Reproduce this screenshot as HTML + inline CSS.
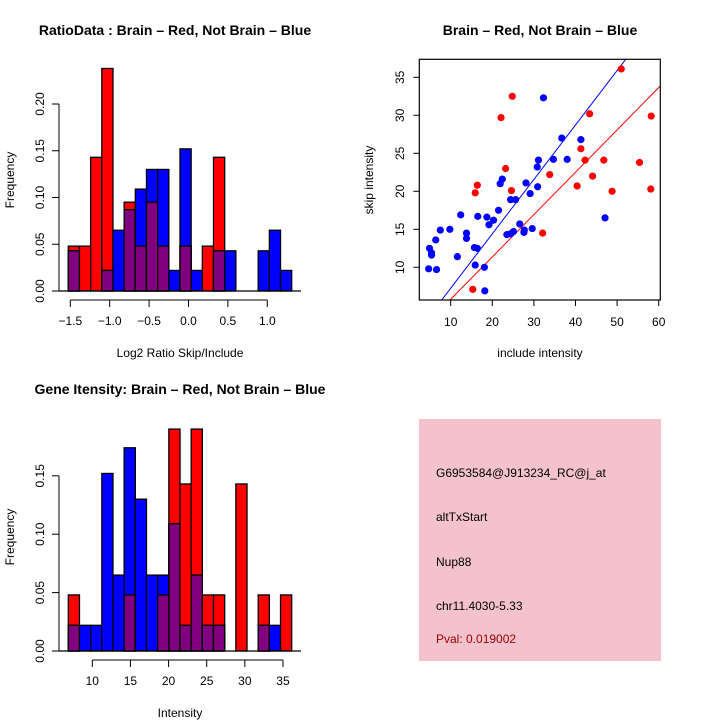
<!DOCTYPE html>
<html><head><meta charset="utf-8"><style>
body{margin:0;background:#fff}
svg{display:block;font-family:"Liberation Sans",sans-serif}
</style></head><body>
<svg id="c" width="720" height="720" viewBox="0 0 720 720">
<rect width="720" height="720" fill="#fff"/>
<g id="h1"></g>
<g id="sc"></g>
<g id="h2"></g>
<g>
<rect x="419" y="419" width="242" height="242" fill="#f4c2cc"/>
<text x="436" y="477" font-size="12">G6953584@J913234_RC@j_at</text>
<text x="436" y="521" font-size="12">altTxStart</text>
<text x="436" y="566" font-size="12">Nup88</text>
<text x="436" y="610" font-size="12">chr11.4030-5.33</text>
<text x="436" y="643" font-size="12" fill="#a00000">Pval: 0.019002</text>
</g>
</svg>
<script>
// Ratio histogram data
const ratioRed = [0.048,0.048,0.143,0.238,0,0.095,0.048,0.095,0.048,0,0.048,0,0.048,0.143,0,0,0,0,0,0];
const ratioBlue = [0.043,0,0,0.022,0.065,0.087,0.109,0.130,0.130,0.022,0.152,0.022,0,0.043,0.043,0,0,0.043,0.065,0.022];
const ratioXTicks = [-1.5,-1.0,-0.5,0.0,0.5,1.0];
const ratioYTicks = [0,0.05,0.10,0.15,0.20];
// Intensity histogram data
const intRed = [0.048,0,0,0,0,0.048,0,0,0.048,0.19,0.143,0.19,0.048,0.048,0,0.143,0,0.048,0,0.048];
const intBlue = [0.022,0.022,0.022,0.152,0.065,0.174,0.130,0.065,0.065,0.109,0.022,0.065,0.022,0.022,0,0,0,0.022,0.022,0];
const intXTicks = [10,15,20,25,30,35];
const intYTicks = [0,0.05,0.10,0.15];
// Scatter data
const redX = [51.0,24.8,22.1,43.4,58.2,41.3,42.3,46.8,55.4,23.2,33.8,44.1,40.4,16.4,15.9,24.6,48.8,58.1,32.1,15.3];
const redY = [36.1,32.5,29.7,30.2,29.9,25.6,24.1,24.1,23.8,23.0,22.2,22.0,20.7,20.8,19.8,20.1,20.0,20.3,14.5,7.1];
const blueX = [32.3,36.7,41.3,31.1,34.7,38.0,30.8,30.9,22.4,21.9,28.1,24.4,25.6,29.1,21.5,12.4,16.5,18.7,20.3,19.2,26.6,47.1,7.5,9.8,13.8,13.8,27.7,29.6,27.6,23.5,25.1,24.4,6.4,4.9,5.4,5.4,11.6,15.7,16.4,15.9,18.1,4.7,6.6,18.2];
const blueY = [32.3,27.0,26.8,24.1,24.2,24.2,23.2,20.6,21.6,21.0,21.1,18.9,18.9,19.7,17.5,16.9,16.7,16.6,16.2,15.6,15.7,16.5,14.9,15.0,14.5,13.8,14.9,15.1,14.6,14.3,14.7,14.4,13.6,12.5,11.9,11.6,11.4,12.6,12.5,10.3,10.0,9.8,9.7,6.9];
const fitRed = [0.224,0.557];
const fitBlue = [0.087,0.716];
const scXTicks = [10,20,30,40,50,60];
const scYTicks = [10,15,20,25,30,35];

const NS="http://www.w3.org/2000/svg";
function mk(p,tag,at){const e=document.createElementNS(NS,tag);for(const k in at)e.setAttribute(k,at[k]);p.appendChild(e);return e;}
function txt(p,x,y,s,at){const e=mk(p,'text',Object.assign({x:x,y:y,'font-size':12,'text-anchor':'middle'},at||{}));e.textContent=s;return e;}

function hist(g,red,blue,x0,bw,xscale,yscale,base,xticks,yticks,xfmt,yfmt,xaxY,title,xlabel,titleX){
  for(let i=0;i<red.length;i++){
    const x=x0+bw*i;
    const r=red[i],b=blue[i],m=Math.min(r,b);
    if(r>0){const e=mk(g,'rect',{x:x,y:yscale(r),width:bw,height:base-yscale(r),fill:'#ff0000',stroke:'#000','stroke-width':1.3});
      
      }
    if(b>0){const e=mk(g,'rect',{x:x,y:yscale(b),width:bw,height:base-yscale(b),fill:'#0000ff',stroke:'#000','stroke-width':1.3});
      
      }
    if(m>0){const e=mk(g,'rect',{x:x,y:yscale(m),width:bw,height:base-yscale(m),fill:'#800080',stroke:'#000','stroke-width':1.3});
      
      }
  }
  mk(g,'line',{x1:59,x2:301,y1:base,y2:base,stroke:'#000','stroke-width':1.2});
  mk(g,'line',{x1:59,x2:59,y1:base,y2:yscale(yticks[yticks.length-1]),stroke:'#000','stroke-width':1});
  yticks.forEach(v=>{const y=yscale(v);mk(g,'line',{x1:52,x2:59,y1:y,y2:y,stroke:'#000'});
    const t=txt(g,44,y,yfmt(v),{transform:`rotate(-90 44 ${y})`});
    
    });
  const xs=xticks.map(xscale);
  mk(g,'line',{x1:xs[0],x2:xs[xs.length-1],y1:xaxY,y2:xaxY,stroke:'#000'});
  xticks.forEach(v=>{const x=xscale(v);mk(g,'line',{x1:x,x2:x,y1:xaxY,y2:xaxY+7,stroke:'#000'});
    const t=txt(g,x,xaxY+25,xfmt(v));
    
    });
  const tt=txt(g,titleX,base-0,title,{'font-weight':'bold','font-size':14});return tt;
}

// Top-left histogram
(function(){
  const g=document.getElementById('h1');
  const ys=v=>291-v*935;
  const xs=v=>70.3+(v+1.5)*78.8;
  hist(g,ratioRed,ratioBlue,68.3,11.17,xs,ys,291,ratioXTicks,ratioYTicks,v=>v.toFixed(1).replace('-','\u2212'),v=>v.toFixed(2),300,'','',0).remove();
  const t=txt(g,175,35,'RatioData : Brain \u2013 Red, Not Brain \u2013 Blue',{'font-weight':'bold','font-size':14});
  
  
  const xl=txt(g,180,357,'Log2 Ratio Skip/Include');
  
  
  const yl=txt(g,14,180,'Frequency',{transform:'rotate(-90 14 180)'});
  
  
})();

// Bottom-left histogram
(function(){
  const g=document.getElementById('h2');
  const ys=v=>651-v*1168;
  const xs=v=>92.3+(v-10)*7.627;
  hist(g,intRed,intBlue,68.3,11.17,xs,ys,651,intXTicks,intYTicks,v=>String(v),v=>v.toFixed(2),660,'','',0).remove();
  const t=txt(g,180,394,'Gene Itensity: Brain \u2013 Red, Not Brain \u2013 Blue',{'font-weight':'bold','font-size':14});
  
  
  const xl=txt(g,180,717,'Intensity');
  
  
  const yl=txt(g,14,537,'Frequency',{transform:'rotate(-90 14 537)'});
  
  
})();

// Scatter
(function(){
  const g=document.getElementById('sc');
  const L=419.3,R=660.3,T=59.3,B=300;
  const xs=v=>450.7+(v-10)*4.16;
  const ys=v=>267.3-(v-10)*7.6;
  mk(g,'clipPath',{id:'clp'}).appendChild((()=>{const r=document.createElementNS(NS,'rect');r.setAttribute('x',L);r.setAttribute('y',T);r.setAttribute('width',R-L);r.setAttribute('height',B-T);return r;})());
  const lg=mk(g,'g',{'clip-path':'url(#clp)'});
  [[fitBlue,'#0000ff','fit-line-not-brain'],[fitRed,'#ff0000','fit-line-brain']].forEach(([f,c,n])=>{
    const x1=0,x2=70;
    const e=mk(lg,'line',{x1:xs(x1),y1:ys(f[0]+f[1]*x1),x2:xs(x2),y2:ys(f[0]+f[1]*x2),stroke:c,'stroke-width':1});
    
    
  });
  redX.forEach((x,i)=>{const e=mk(g,'circle',{cx:xs(x),cy:ys(redY[i]),r:3.6,fill:'#ff0000'});
    
    });
  blueX.forEach((x,i)=>{const e=mk(g,'circle',{cx:xs(x),cy:ys(blueY[i]),r:3.6,fill:'#0000ff'});
    
    });
  mk(g,'rect',{x:L,y:T,width:R-L,height:B-T,fill:'none',stroke:'#000','stroke-width':1.2});
  scXTicks.forEach(v=>{const x=xs(v);mk(g,'line',{x1:x,x2:x,y1:B,y2:B+6,stroke:'#000'});
    const t=txt(g,x,B+26,String(v));
    
    });
  scYTicks.forEach(v=>{const y=ys(v);mk(g,'line',{x1:L-6,x2:L,y1:y,y2:y,stroke:'#000'});
    const t=txt(g,404,y,String(v),{transform:`rotate(-90 404 ${y})`});
    
    });
  const t=txt(g,540,35,'Brain \u2013 Red, Not Brain \u2013 Blue',{'font-weight':'bold','font-size':14});
  
  
  const xl=txt(g,540,357,'include intensity');
  
  
  const yl=txt(g,373,180,'skip intensity',{transform:'rotate(-90 373 180)'});
  
  
})();
</script>
</body></html>
